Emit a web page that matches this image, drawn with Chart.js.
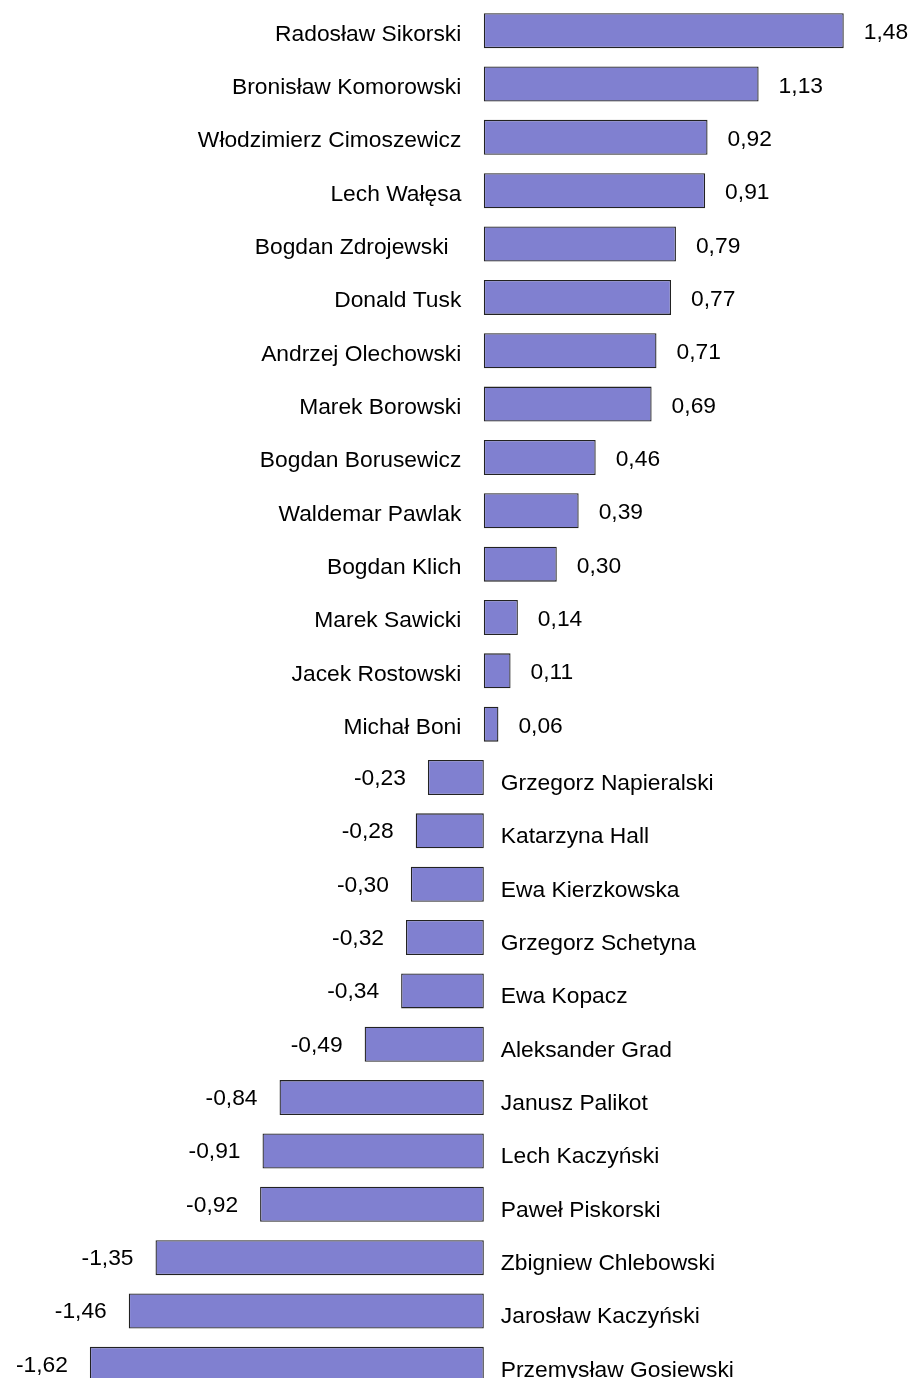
<!DOCTYPE html>
<html>
<head>
<meta charset="utf-8">
<script src="https://cdn.jsdelivr.net/npm/chart.js@4"></script>
<style>
html, body { margin: 0; padding: 0; background: #ffffff; overflow: hidden; width: 917px; height: 1378px; }
#clip { width: 917px; height: 1378px; overflow: hidden; position: relative; }
#wrap { width: 917px; height: 1391px; position: absolute; left: 0; top: 0; }
</style>
</head>
<body>
<div id="clip"><div id="wrap"><canvas id="c"></canvas></div></div>
<script>
const names = [
  "Radosław Sikorski", "Bronisław Komorowski", "Włodzimierz Cimoszewicz", "Lech Wałęsa",
  "Bogdan Zdrojewski  ", "Donald Tusk", "Andrzej Olechowski", "Marek Borowski",
  "Bogdan Borusewicz", "Waldemar Pawlak", "Bogdan Klich", "Marek Sawicki",
  "Jacek Rostowski", "Michał Boni", "Grzegorz Napieralski", "Katarzyna Hall",
  "Ewa Kierzkowska", "Grzegorz Schetyna", "Ewa Kopacz", "Aleksander Grad",
  "Janusz Palikot", "Lech Kaczyński", "Paweł Piskorski", "Zbigniew Chlebowski",
  "Jarosław Kaczyński", "Przemysław Gosiewski"
];
const values = [
  1.48, 1.13, 0.92, 0.91, 0.79, 0.77, 0.71, 0.69, 0.46, 0.39, 0.30, 0.14, 0.11, 0.06,
  -0.23, -0.28, -0.30, -0.32, -0.34, -0.49, -0.84, -0.91, -0.92, -1.35, -1.46, -1.62
];
const valueLabels = values.map(v => v.toFixed(2).replace('.', ','));

const FONT = "22.8px 'Liberation Sans', Arial, sans-serif";

const labelPlugin = {
  id: 'barLabels',
  afterDatasetsDraw(chart) {
    const ctx = chart.ctx;
    const meta = chart.getDatasetMeta(0);
    ctx.save();
    ctx.font = FONT;
    ctx.fillStyle = '#000000';
    ctx.textBaseline = 'alphabetic';
    meta.data.forEach((bar, i) => {
      const v = values[i];
      const y = bar.y;
      const base = bar.base;
      if (v >= 0) {
        ctx.textAlign = 'right';
        ctx.fillText(names[i], base - 22.5, y + 10);
        ctx.textAlign = 'left';
        ctx.fillText(valueLabels[i], bar.x + 20, y + 8.5);
      } else {
        ctx.textAlign = 'left';
        ctx.fillText(names[i], base + 17, y + 12.5);
        ctx.textAlign = 'right';
        ctx.fillText(valueLabels[i], bar.x - 22, y + 7.5);
      }
    });
    ctx.restore();
  }
};

new Chart(document.getElementById('c'), {
  type: 'bar',
  data: {
    labels: names,
    datasets: [{
      data: values,
      backgroundColor: '#8080d0',
      borderColor: '#222222',
      borderWidth: 1.3,
      borderSkipped: false,
      categoryPercentage: 1.0,
      barPercentage: 0.656
    }]
  },
  options: {
    indexAxis: 'y',
    responsive: true,
    maintainAspectRatio: false,
    animation: false,
    layout: { padding: { top: 4, bottom: 0, left: 9.6, right: 7.6 } },
    plugins: { legend: { display: false }, tooltip: { enabled: false } },
    scales: {
      x: { display: false, min: -1.95, max: 1.75 },
      y: { display: false, offset: true }
    }
  },
  plugins: [labelPlugin]
});
</script>
</body>
</html>
